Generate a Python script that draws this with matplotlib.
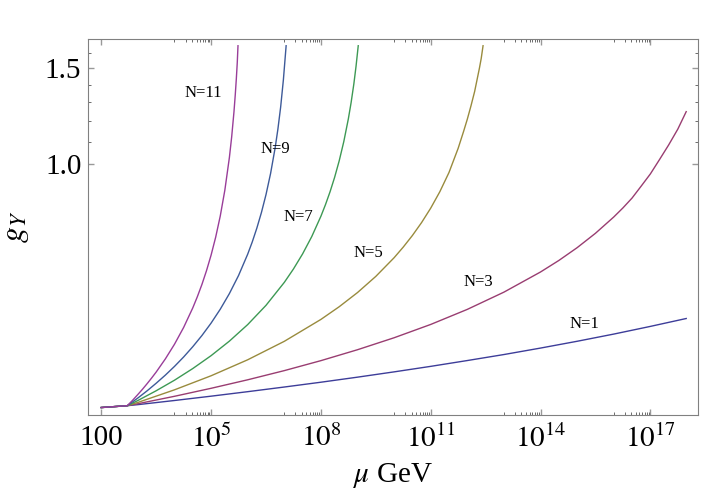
import numpy as np
import matplotlib
matplotlib.use('Agg')
import matplotlib.pyplot as plt
from matplotlib.ticker import FixedLocator, FixedFormatter, NullFormatter

plt.rcParams['font.family'] = ['Liberation Serif', 'DejaVu Serif']
plt.rcParams['mathtext.fontset'] = 'stix'

# log10(mu / GeV) and g_Y, one pair of lists per N
t1 = [2.0, 2.71, 3, 4, 5, 6, 7, 8, 9, 10, 11, 12, 13, 14, 15, 16, 17, 17.98]
g1 = [0.358, 0.3608, 0.3624, 0.3688, 0.3756, 0.3828, 0.3904, 0.3984, 0.4070,
      0.4162, 0.4260, 0.4366, 0.4478, 0.4602, 0.4736, 0.4882, 0.5043, 0.5214]

t3 = [2.0, 2.71, 3, 4, 5, 6, 7, 8, 9, 10, 11, 12, 13, 14, 14.5, 15, 15.5,
      16, 16.25, 16.5, 16.75, 17, 17.25, 17.5, 17.75, 17.98]
g3 = [0.358, 0.3608, 0.3638, 0.3754, 0.3883, 0.4025, 0.4184, 0.4364, 0.4570,
      0.4807, 0.5085, 0.5419, 0.5828, 0.6346, 0.6662, 0.7032, 0.7472,
      0.8004, 0.8316, 0.8671, 0.912, 0.96, 1.02, 1.085, 1.16, 1.249]

t5 = [2.0, 2.71, 3, 4, 5, 6, 7, 8, 8.5, 9, 9.5, 10, 10.25, 10.5, 10.75, 11,
      11.25, 11.5, 11.75, 11.9, 12, 12.1, 12.2, 12.33, 12.38, 12.43]
g5 = [0.358, 0.3608, 0.3658, 0.3858, 0.4094, 0.4380, 0.4735, 0.5194, 0.5480,
      0.5818, 0.6229, 0.6740, 0.7050, 0.7404, 0.7818, 0.8310, 0.8909, 0.9663,
      1.07, 1.15, 1.21, 1.28, 1.36, 1.50, 1.564, 1.65]

t7 = [2.0, 2.71, 3, 3.5, 4, 4.5, 5, 5.5, 6, 6.5, 7, 7.25, 7.5, 7.75, 8,
      8.125, 8.25, 8.375, 8.5, 8.625, 8.75, 8.825, 8.9, 8.96, 9.02]
g7 = [0.358, 0.3608, 0.3688, 0.3843, 0.4018, 0.4221, 0.4457, 0.4739, 0.5082,
      0.5512, 0.6073, 0.6427, 0.6850, 0.7370, 0.8030, 0.8434, 0.8905, 0.9466,
      1.0149, 1.1003, 1.2118, 1.2975, 1.404, 1.513, 1.65]

t9 = [2.0, 2.71, 3.0, 3.25, 3.5, 3.75, 4, 4.25, 4.5, 4.75, 5, 5.25, 5.5,
      5.75, 6, 6.125, 6.25, 6.375, 6.5, 6.625, 6.75, 6.825, 6.9, 6.975, 7.05]
g9 = [0.358, 0.3608, 0.3727, 0.3841, 0.3967, 0.4105, 0.4259, 0.4432, 0.4629,
      0.4853, 0.5114, 0.5422, 0.5793, 0.6252, 0.6842, 0.7206, 0.7638, 0.8157,
      0.8798, 0.9618, 1.0721, 1.160, 1.273, 1.4286, 1.65]

t11 = [2.0, 2.71, 2.85, 3.0, 3.125, 3.25, 3.375, 3.5, 3.75, 4, 4.25, 4.5,
       4.625, 4.75, 4.875, 5, 5.125, 5.25, 5.375, 5.5, 5.5625, 5.625, 5.66,
       5.69, 5.715, 5.735]
g11 = [0.358, 0.3608, 0.3688, 0.3783, 0.3867, 0.3958, 0.4055, 0.4159, 0.4396,
       0.4677, 0.5021, 0.5454, 0.5718, 0.6022, 0.6383, 0.6815, 0.7350, 0.8035,
       0.8959, 1.0292, 1.1230, 1.2480, 1.340, 1.437, 1.536, 1.65]

series = [(t1, g1), (t3, g3), (t5, g5), (t7, g7), (t9, g9), (t11, g11)]
colors = ['#3d3d99', '#993d71', '#998b3d', '#3d9954', '#3d5a99', '#993d99']

labels = ['N=1', 'N=3', 'N=5', 'N=7', 'N=9', 'N=11']
label_t = [15.2, 12.29, 9.31, 7.38, 6.75, 4.79]
label_g = [0.5095, 0.6091, 0.6867, 0.8015, 1.0667, 1.3496]

xticks_exp = [2, 5, 8, 11, 14, 17]
xtick_labels = ['100', '$10^{5}$', '$10^{8}$', '$10^{11}$', '$10^{14}$', '$10^{17}$']
yticks = [1.0, 1.5]
ytick_labels = ['1.0', '1.5']
yminor = [1.1, 1.2, 1.3, 1.4, 1.6]

fig = plt.figure(figsize=(7.08, 5.04), dpi=100)
ax = fig.add_axes([0.1247, 0.1766, 0.8608, 0.746])

for (t, g), c in zip(series, colors):
    ax.plot(10.0 ** np.array(t), g, color=c, lw=1.0)

for lab, tx, gy in zip(labels, label_t, label_g):
    ax.text(10.0 ** tx, gy, lab, ha='center', va='center', fontsize=12)

ax.set_xscale('log')
ax.set_yscale('log')
ax.set_xlim(10 ** 1.645, 10 ** 18.295)
ax.set_ylim(0.3469, 1.6975)

ax.xaxis.set_major_locator(FixedLocator([10.0 ** e for e in xticks_exp]))
ax.xaxis.set_major_formatter(FixedFormatter(xtick_labels))
xminor = [m * 10.0 ** (e - 1) for e in xticks_exp[1:] for m in range(1, 10)]
ax.xaxis.set_minor_locator(FixedLocator(xminor))
ax.xaxis.set_minor_formatter(NullFormatter())

ax.yaxis.set_major_locator(FixedLocator(yticks))
ax.yaxis.set_major_formatter(FixedFormatter(ytick_labels))
ax.yaxis.set_minor_locator(FixedLocator(yminor))
ax.yaxis.set_minor_formatter(NullFormatter())

ax.tick_params(which='both', direction='in', top=True, right=True, labelsize=21)
ax.tick_params(which='major', length=4.5, width=1.0, color='#999999')
ax.tick_params(which='minor', length=2.4, width=0.6, color='#555555')
ax.tick_params(axis='x', which='major', pad=7)
ax.tick_params(axis='y', which='major', pad=5)
for s in ax.spines.values():
    s.set_color('#808080')
    s.set_linewidth(0.8)

ax.set_xlabel(r'$\mu$ GeV', fontsize=21, labelpad=6)
ax.set_ylabel(r'$g_Y$', fontsize=23, labelpad=10)

fig.savefig('out.png', dpi=100)
